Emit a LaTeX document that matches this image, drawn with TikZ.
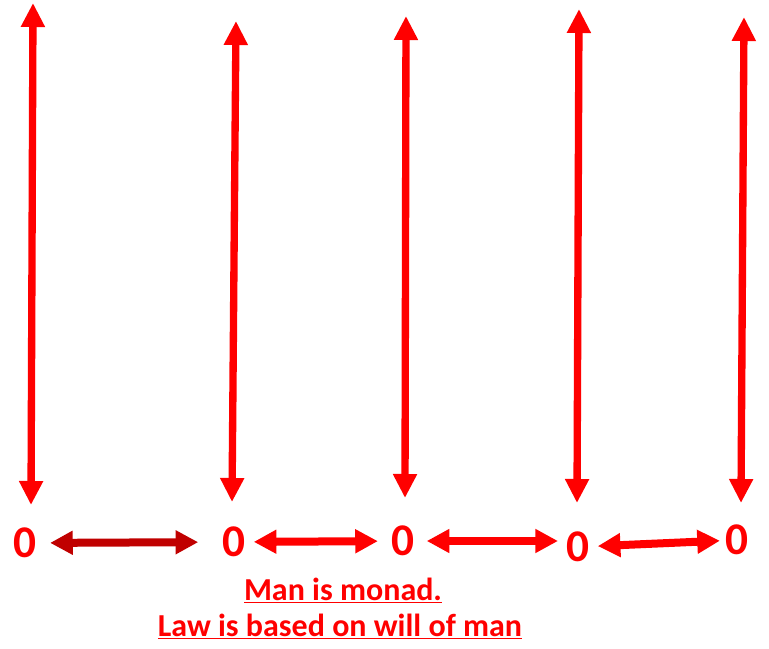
\documentclass[tikz,border=0pt]{standalone}
\usepackage{fontspec}
\setmainfont{Carlito}
\usepackage{tikz}
\usetikzlibrary{arrows.meta,positioning}

\definecolor{darkred}{RGB}{192,0,0}

\begin{document}
\begin{tikzpicture}[x=0.75pt, y=-0.75pt,
    pole/.style={red, line width=5.5pt, {Triangle[length=18pt,width=17pt]}-{Triangle[length=18pt,width=17pt]}},
    link/.style={red, line width=6pt, {Triangle[length=17pt,width=17pt]}-{Triangle[length=17pt,width=17pt]}},
    zero/.style={text=red, font=\fontsize{34}{34}\selectfont\bfseries, inner sep=0pt},
    note/.style={text=red, font=\fontsize{24}{28}\selectfont\bfseries, inner sep=0pt, anchor=base}]
    \useasboundingbox (0,0) rectangle (769,649);

    % the five poles
    \coordinate (top1) at (33,3);   \coordinate (bot1) at (31,505);
    \coordinate (top2) at (236,21); \coordinate (bot2) at (232,502);
    \coordinate (top3) at (406,16); \coordinate (bot3) at (405,498);
    \coordinate (top4) at (579,9);  \coordinate (bot4) at (577,503);
    \coordinate (top5) at (744,17); \coordinate (bot5) at (741,503);
    \draw[pole] (top1) -- (bot1);
    \draw[pole] (top2) -- (bot2);
    \draw[pole] (top3) -- (bot3);
    \draw[pole] (top4) -- (bot4);
    \draw[pole] (top5) -- (bot5);

    % zeros along the bottom
    \node[zero] (z1) at (25,543) {0};
    \node[zero] (z2) at (234,542) {0};
    \node[zero] (z3) at (403,541) {0};
    \node[zero] (z4) at (578,547) {0};
    \node[zero] (z5) at (737,540) {0};

    \draw[link, darkred, shorten <=10pt, shorten >=18pt] (z1) -- (z2);
    \draw[link, shorten <=6pt, shorten >=10pt] (z2) -- (z3);
    \draw[link, shorten <=9pt, shorten >=15pt] (z3) -- (z3 -| z4);
    \draw[link, shorten <=6pt, shorten >=4pt] (z4) -- (z5);

    \node[note] (monad) at (343,600) {\underline{Man is monad.}};
    \node[note] (law) at (340,636) {\underline{Law is based on will of man}};
\end{tikzpicture}
\end{document}
